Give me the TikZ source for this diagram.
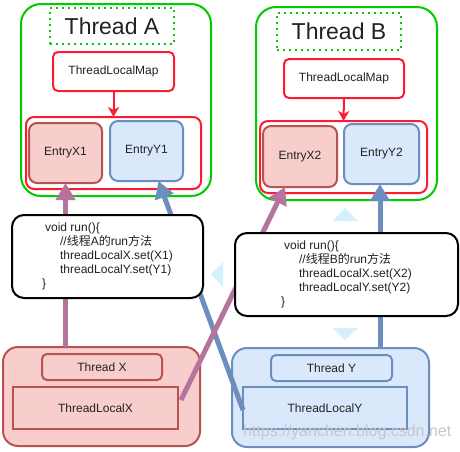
\documentclass[tikz,border=0pt]{standalone}
\usepackage{fontspec}
\setmainfont{Liberation Sans}
\newfontfamily\cjk{Noto Sans CJK SC}
\usetikzlibrary{arrows.meta}
\definecolor{grn}{HTML}{00CC00}
\definecolor{rd}{HTML}{FF1A33}
\definecolor{pinkf}{HTML}{F8CECC}
\definecolor{pinkd}{HTML}{B85450}
\definecolor{bluef}{HTML}{DAE8FC}
\definecolor{blued}{HTML}{6C8EBF}
\definecolor{purp}{HTML}{B5739D}
\definecolor{hint}{HTML}{D4F0FC}
\definecolor{txt}{HTML}{222222}
\begin{document}
\begin{tikzpicture}[x=1pt,y=-1pt,
  font=\fontsize{12}{14}\selectfont, text=txt,
  sz/.style 2 args={minimum width=#1pt, minimum height=#2pt, inner sep=0pt, outer sep=0pt},
  threadbox/.style={draw=grn, line width=2pt, rounded corners=20pt},
  titlebox/.style={draw=grn, line width=2pt, dash pattern=on 2pt off 4pt, font=\fontsize{23}{23}\selectfont},
  mapbox/.style={draw=rd, line width=2pt, rounded corners=5pt, fill=white},
  holder/.style={draw=rd, line width=2pt, rounded corners=8pt},
  entx/.style={draw=pinkd, fill=pinkf, line width=2pt, rounded corners=8pt},
  enty/.style={draw=blued, fill=bluef, line width=2pt, rounded corners=8pt},
  codebox/.style={draw=black, fill=white, line width=2pt, rounded corners=12pt, align=left},
  outx/.style={draw=pinkd, fill=pinkf, line width=2pt, rounded corners=15pt},
  outy/.style={draw=blued, fill=bluef, line width=2pt, rounded corners=15pt},
  labx/.style={draw=pinkd, fill=pinkf, line width=2pt, rounded corners=5pt},
  laby/.style={draw=blued, fill=bluef, line width=2pt, rounded corners=5pt},
  tlx/.style={draw=pinkd, fill=pinkf, line width=2pt},
  tly/.style={draw=blued, fill=bluef, line width=2pt},
  maparrow/.style={draw=rd, line width=2pt, -{Stealth[width=11pt,length=10pt,inset=3pt]}},
  fatarrow/.style={line width=5pt, -{Triangle[width=19pt,length=17pt]}},
  hintshape/.style={fill=hint, draw=none}
]
\useasboundingbox (0,0) rectangle (460,451);
\fill[white] (0,0) rectangle (460,451);

% Thread A
\node[threadbox, sz={190}{192}] (ta) at (116,100) {};
\node[titlebox, sz={124}{36}] (tat) at (112,26) {Thread A};
\node[mapbox, sz={121}{39}] (ma) at (113.5,71.5) {ThreadLocalMap};
\node[holder, sz={175}{72}] (ra) at (113.5,153) {};
\node[entx, sz={73}{60}] (ex1) at (65.5,153) {EntryX1};
\node[enty, sz={73}{60}] (ey1) at (146.5,151) {EntryY1};
\draw[maparrow] (ma.south) -- (ra.north);

% Thread B
\node[threadbox, sz={181}{193}] (tb) at (346.5,103.5) {};
\node[titlebox, sz={124}{37}] (tbt) at (339,31.5) {Thread B};
\node[mapbox, sz={120}{39}] (mb) at (344,78.5) {ThreadLocalMap};
\node[holder, sz={167}{72}] (rb) at (343.5,157) {};
\node[entx, sz={74}{61}] (ex2) at (300,156.5) {EntryX2};
\node[enty, sz={75}{60}] (ey2) at (381.5,154) {EntryY2};
\draw[maparrow] (mb.south) -- (rb.north);

% Thread X / Thread Y
\node[outx, sz={197}{99}] (tx) at (101.5,396.5) {};
\node[labx, sz={120}{26}] (txl) at (102,367) {Thread X};
\node[tlx, sz={165}{42}] (lx) at (95.5,408) {ThreadLocalX};
\node[outy, sz={197}{99}] (ty) at (330.5,397.5) {};
\node[laby, sz={121}{26}] (tyl) at (331.5,368) {Thread Y};
\node[tly, sz={164}{42}] (ly) at (325,408) {ThreadLocalY};

% connectors
\draw[fatarrow, draw=purp, fill=purp] (ex1.south |- tx.north) -- (ex1.south);
\draw[fatarrow, draw=blued, fill=blued] ([yshift=-2pt]ly.west) -- ([xshift=12pt]ey1.south);
\draw[fatarrow, draw=purp, fill=purp] ([xshift=3pt,yshift=8pt]lx.east) -- ([xshift=-15pt]ex2.south);
\draw[fatarrow, draw=blued, fill=blued] ([xshift=-1.5pt]ey2.south |- ty.north) -- ([xshift=-1.5pt]ey2.south);

% code boxes
\node[codebox, sz={191}{83}] (ca) at (107.5,256.5) {\hspace*{3pt}void run()\{\\
\hspace*{18pt}//{\cjk 线程}A{\cjk 的}run{\cjk 方法}\\
\hspace*{18pt}threadLocalX.set(X1)\\
\hspace*{18pt}threadLocalY.set(Y1)\\
\}};
\node[codebox, sz={223}{83}] (cb) at (346.5,274.5) {\hspace*{3pt}void run()\{\\
\hspace*{18pt}//{\cjk 线程}B{\cjk 的}run{\cjk 方法}\\
\hspace*{18pt}threadLocalX.set(X2)\\
\hspace*{18pt}threadLocalY.set(Y2)\\
\}};

% hover hints
\path[hintshape] (333,221) -- (345,208) -- (358,221) -- cycle;
\path[hintshape] (333,328) -- (345,340) -- (358,328) -- cycle;
\path[hintshape] (211,274) -- (223,262) -- (223,287) -- cycle;

% watermark
\node[anchor=west, text=black!22, font=\fontsize{16}{16}\selectfont, inner sep=0pt] (wm) at (243,432) {https://yanchen.blog.csdn.net};
\end{tikzpicture}
\end{document}
